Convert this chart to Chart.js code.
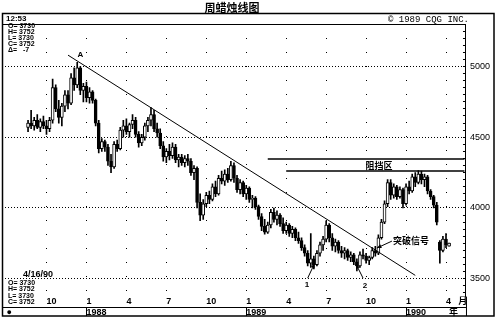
<!DOCTYPE html>
<html lang="zh">
<head>
<meta charset="utf-8">
<title>周蜡烛线图</title>
<script src="https://cdn.jsdelivr.net/npm/chart.js@4.4.1/dist/chart.umd.min.js"></script>
<style>
  html, body { margin: 0; padding: 0; background: #fff; }
  #box { position: relative; width: 497px; height: 320px; }
</style>
</head>
<body>
<div id="box"><canvas id="candleChart"></canvas></div>
<script>
// weekly bars, first category = week of 1987-07-13, last candle = 4/16/90
const weekCount = 150;
const dataStart = 7; // first week that has a candle

const opens = [
  4570, 4600, 4580, 4620, 4570, 4610, 4580, 4560, 4620, 4850, 4700, 4640, 4720, 4800,
  4740, 4920, 4870, 4990, 4830, 4860, 4780, 4820, 4760, 4600, 4420, 4470, 4430, 4330,
  4290, 4450, 4420, 4550, 4580, 4540, 4590, 4620, 4520, 4460, 4500, 4580, 4620, 4660,
  4560, 4530, 4440, 4360, 4400, 4370, 4430, 4340, 4360, 4320, 4350, 4330, 4250, 4280,
  4040, 3950, 4030, 4090, 4060, 4150, 4100, 4210, 4190, 4240, 4200, 4300, 4210, 4130,
  4180, 4100, 4140, 4060, 4070, 4010, 3940, 3870, 3830, 3880, 3970, 3920, 3950, 3890,
  3840, 3880, 3820, 3850, 3790, 3770, 3720, 3680, 3610, 3640, 3600, 3680, 3740, 3780,
  3880, 3790, 3730, 3760, 3700, 3680, 3700, 3650, 3670, 3620, 3590, 3670, 3660, 3630,
  3650, 3700, 3680, 3790, 3900, 4030, 4180, 4090, 4150, 4080, 4130, 4030, 4150, 4120,
  4220, 4180, 4240, 4200, 4220, 4120, 4080, 4020, 3760, 3700, 3780, 3730
];
const highs = [
  4620, 4690, 4640, 4660, 4630, 4650, 4620, 4640, 4910, 4870, 4760, 4740, 4830, 4830,
  4950, 4990, 5030, 5000, 4880, 4890, 4850, 4830, 4770, 4620, 4490, 4480, 4450, 4380,
  4470, 4480, 4570, 4620, 4630, 4600, 4660, 4640, 4540, 4520, 4600, 4640, 4710, 4690,
  4600, 4560, 4470, 4420, 4450, 4460, 4450, 4380, 4380, 4370, 4380, 4350, 4300, 4290,
  4100, 4060, 4110, 4120, 4170, 4190, 4230, 4260, 4270, 4280, 4330, 4320, 4230, 4200,
  4190, 4160, 4150, 4090, 4080, 4020, 3960, 3920, 3900, 3990, 4000, 3980, 3960, 3930,
  3900, 3890, 3870, 3860, 3830, 3790, 3740, 3700, 3820, 3660, 3700, 3760, 3800, 3910,
  3890, 3820, 3780, 3770, 3730, 3720, 3710, 3690, 3680, 3640, 3690, 3710, 3680, 3660,
  3720, 3730, 3810, 3920, 4050, 4200, 4200, 4170, 4160, 4150, 4140, 4170, 4190, 4240,
  4250, 4265, 4260, 4240, 4230, 4130, 4090, 4040, 3770, 3800, 3820, 3752
];
const lows = [
  4540, 4560, 4550, 4560, 4540, 4560, 4520, 4540, 4600, 4680, 4600, 4580, 4680, 4700,
  4730, 4830, 4850, 4800, 4750, 4750, 4740, 4740, 4580, 4390, 4400, 4400, 4300, 4250,
  4280, 4400, 4410, 4500, 4520, 4500, 4560, 4500, 4430, 4440, 4480, 4540, 4580, 4540,
  4500, 4420, 4330, 4320, 4340, 4350, 4320, 4290, 4300, 4290, 4300, 4230, 4200, 4000,
  3910, 3920, 4010, 4030, 4050, 4080, 4090, 4170, 4160, 4180, 4190, 4180, 4110, 4100,
  4080, 4060, 4040, 4000, 3990, 3920, 3840, 3815, 3820, 3860, 3900, 3880, 3870, 3820,
  3820, 3800, 3790, 3770, 3750, 3700, 3660, 3590, 3580, 3570, 3590, 3660, 3700, 3760,
  3760, 3700, 3690, 3680, 3650, 3640, 3630, 3620, 3600, 3555, 3580, 3640, 3610, 3600,
  3640, 3660, 3670, 3780, 3890, 4010, 4060, 4070, 4060, 4070, 4000, 4020, 4100, 4110,
  4150, 4170, 4170, 4150, 4100, 4060, 4000, 3880, 3610, 3690, 3720, 3730
];
const closes = [
  4600, 4580, 4620, 4570, 4610, 4580, 4560, 4620, 4850, 4700, 4640, 4720, 4800, 4740,
  4920, 4870, 4990, 4830, 4860, 4780, 4820, 4760, 4600, 4420, 4470, 4430, 4330, 4290,
  4450, 4420, 4550, 4580, 4540, 4590, 4620, 4520, 4460, 4500, 4580, 4620, 4660, 4560,
  4530, 4440, 4360, 4400, 4370, 4430, 4340, 4360, 4320, 4350, 4330, 4250, 4280, 4040,
  3950, 4030, 4090, 4060, 4150, 4100, 4210, 4190, 4240, 4200, 4300, 4210, 4130, 4180,
  4100, 4140, 4060, 4070, 4010, 3940, 3870, 3830, 3880, 3970, 3920, 3950, 3890, 3840,
  3880, 3820, 3850, 3790, 3770, 3720, 3680, 3610, 3640, 3600, 3680, 3740, 3780, 3880,
  3790, 3730, 3760, 3700, 3680, 3700, 3650, 3670, 3620, 3590, 3670, 3660, 3630, 3650,
  3700, 3680, 3790, 3900, 4030, 4180, 4090, 4150, 4080, 4130, 4030, 4150, 4120, 4220,
  4180, 4240, 4200, 4220, 4120, 4080, 4020, 3900, 3700, 3780, 3740, 3752
];

// [week, price] ends of the hand-drawn lines
const trendLine = [[20, 5080], [133, 3524]];
const zoneTop = [[85, 4346], [149, 4346]];
const zoneBottom = [[91, 4261], [149, 4261]];

const quarterWeeks = [13, 26, 39, 52, 65, 78, 91, 104, 117, 130, 143];
const monthLabels = ["10", "1", "4", "7", "10", "1", "4", "7", "10", "1", "4"];
const monthUnitWeek = 147;
const yearRowWeeks = [0, 26, 78, 130, 144];
const yearRowLabels = ["●", "1988", "1989", "1990", "年"];
const yearSeparators = [26, 78, 130];
const yLabels = [3500, 4000, 4500, 5000];
const yMin = 3374;
const yMax = 5300;
const yMinorStep = 50;

const labels = [];
const t0 = Date.UTC(1987, 6, 13);
for (let i = 0; i < weekCount; i++) {
  const d = new Date(t0 + i * 7 * 86400000);
  labels.push(`${d.getUTCMonth() + 1}/${d.getUTCDate()}/${String(d.getUTCFullYear()).slice(2)}`);
}

function atWeeks(values) {
  const out = new Array(weekCount).fill(null);
  values.forEach((v, k) => { out[dataStart + k] = v; });
  return out;
}
function lineAt(points) {
  const out = new Array(weekCount).fill(null);
  points.forEach(([w, v]) => { out[w] = v; });
  return out;
}

const bodies = atWeeks(opens.map((o, k) => [o, closes[k]]));
const wicks = atWeeks(lows.map((l, k) => [l, highs[k]]));
const bodyFill = atWeeks(opens.map((o, k) => (closes[k] >= o ? "#fff" : "#000")));

const latin = "'Liberation Sans', 'Noto Sans CJK SC', sans-serif";
const cjk = "'Noto Sans CJK SC', sans-serif";
const tickFont = { family: latin, size: 9 };
const dateFont = { family: latin, size: 9, weight: "bold" };

function lineSet(points, width) {
  return {
    type: "line",
    data: lineAt(points),
    borderColor: "#000",
    borderWidth: width,
    pointRadius: 0,
    spanGaps: true,
    fill: false,
    order: 0,
  };
}

// text, arrows and frame of the old terminal printout
const chromePlugin = {
  id: "chrome",
  afterDraw(chart) {
    const { ctx, chartArea: a, scales } = chart;
    const px = (w) => scales.x.getPixelForValue(w);
    const py = (v) => scales.y.getPixelForValue(v);
    const seg = (x1, y1, x2, y2) => { ctx.beginPath(); ctx.moveTo(x1, y1); ctx.lineTo(x2, y2); ctx.stroke(); };
    const text = (s, x, y, font, align) => {
      ctx.font = font;
      ctx.textAlign = align || "left";
      ctx.textBaseline = "middle";
      ctx.fillText(s, x, y);
    };
    const arrow = (w1, v1, w2, v2) => {
      const x1 = px(w1), y1 = py(v1), x2 = px(w2), y2 = py(v2);
      seg(x1, y1, x2, y2);
      const ang = Math.atan2(y2 - y1, x2 - x1);
      ctx.beginPath();
      ctx.moveTo(x2, y2);
      ctx.lineTo(x2 - 5 * Math.cos(ang - 0.4), y2 - 5 * Math.sin(ang - 0.4));
      ctx.lineTo(x2 - 5 * Math.cos(ang + 0.4), y2 - 5 * Math.sin(ang + 0.4));
      ctx.closePath();
      ctx.fill();
    };

    ctx.save();
    ctx.strokeStyle = "#000";
    ctx.fillStyle = "#000";

    ctx.lineWidth = 1.5;
    ctx.strokeRect(2.5, 13.5, 491.5, 302.5);
    ctx.lineWidth = 1;
    seg(2.5, a.top + 0.5, a.right, a.top + 0.5);
    seg(a.right + 0.5, a.bottom, a.right + 0.5, 316);
    const stripTop = Math.round(scales.x2.top) + 0.5;
    seg(2.5, stripTop, a.right, stripTop);
    yearSeparators.forEach((w) => {
      const x = Math.round(scales.x2.getPixelForValue(w)) + 0.5;
      seg(x, stripTop, x, 316);
    });

    text("周蜡烛线图", 232, 8, "bold 11px " + cjk, "center");
    text("12:53", 6, 18.5, "bold 8px " + latin);
    text("© 1989 CQG INC.", 388, 19.5, "9px 'Liberation Mono', monospace");

    const info = "bold 7px " + latin;
    ["O= 3730", "H= 3752", "L= 3730", "C= 3752", "Δ=   -7"].forEach((s, k) => text(s, 8, 26.5 + k * 6, info));
    text("4/16/90", 23, 275, "bold 9px " + latin);
    ["O= 3730", "H= 3752", "L= 3730", "C= 3752"].forEach((s, k) => text(s, 8, 283 + k * 6.3, info));

    text("A", px(24), py(5085), "bold 8px " + latin, "center");
    text("1", px(97.8), py(3455), "bold 8px " + latin, "center");
    text("2", px(116.6), py(3448), "bold 8px " + latin, "center");
    arrow(98, 3505, 100.3, 3611);
    arrow(116, 3505, 113.7, 3604);
    arrow(125.4, 3766, 120.5, 3717);
    text("阻挡区", px(121.2), py(4303), "bold 9px " + cjk, "center");
    text("突破信号", px(131.6), py(3773), "bold 9px " + cjk, "center");
    ctx.restore();
  },
};

new Chart(document.getElementById("candleChart"), {
  type: "bar",
  data: {
    labels: labels,
    datasets: [
      lineSet(trendLine, 1),
      lineSet(zoneTop, 1.5),
      lineSet(zoneBottom, 1.5),
      {
        label: "body",
        data: bodies,
        backgroundColor: bodyFill,
        borderColor: "#000",
        borderWidth: 1,
        borderSkipped: false,
        barThickness: 3,
        grouped: false,
        order: 1,
      },
      {
        label: "wick",
        data: wicks,
        backgroundColor: "#000",
        borderWidth: 0,
        barThickness: 1,
        grouped: false,
        order: 2,
      },
    ],
  },
  options: {
    responsive: true,
    maintainAspectRatio: false,
    animation: false,
    devicePixelRatio: 1,
    events: [],
    layout: { padding: { left: 5, right: 0, top: 24, bottom: 1.8 } },
    plugins: { legend: { display: false }, tooltip: { enabled: false }, title: { display: false } },
    scales: {
      x: {
        type: "category",
        offset: true,
        grid: {
          offset: false,
          drawTicks: false,
          lineWidth: 1,
          color: (c) => (quarterWeeks.includes(c.index) ? "#000" : "rgba(0,0,0,0)"),
        },
        border: { display: false, dash: [1, 13] },
        ticks: {
          autoSkip: false,
          maxRotation: 0,
          minRotation: 0,
          align: "start",
          padding: 0,
          color: "#000",
          font: dateFont,
          callback: (v, i) => {
            const k = quarterWeeks.indexOf(i);
            if (k >= 0) return monthLabels[k];
            return i === monthUnitWeek ? "月" : "";
          },
        },
      },
      x2: {
        type: "category",
        position: "bottom",
        offset: true,
        grid: { offset: false, display: false, drawOnChartArea: false, drawTicks: false },
        border: { display: false },
        ticks: {
          autoSkip: false,
          maxRotation: 0,
          minRotation: 0,
          align: "start",
          padding: 0,
          color: "#000",
          font: dateFont,
          callback: (v, i) => {
            const k = yearRowWeeks.indexOf(i);
            return k >= 0 ? yearRowLabels[k] : "";
          },
        },
      },
      y: {
        position: "right",
        min: yMin,
        max: yMax,
        afterBuildTicks: (scale) => {
          const t = [];
          for (let v = 3400; v <= yMax; v += yMinorStep) t.push({ value: v });
          scale.ticks = t;
        },
        grid: {
          lineWidth: 1,
          drawTicks: true,
          tickLength: -3,
          tickColor: "#000",
          color: (c) => (c.tick && yLabels.includes(c.tick.value) ? "#000" : "rgba(0,0,0,0)"),
        },
        border: { display: true, color: "#000", width: 1, dash: [1, 2] },
        ticks: {
          autoSkip: false,
          padding: 7,
          color: "#000",
          font: tickFont,
          callback: (v) => (yLabels.includes(v) ? String(v) : ""),
        },
      },
    },
  },
  plugins: [chromePlugin],
});
</script>
</body>
</html>
